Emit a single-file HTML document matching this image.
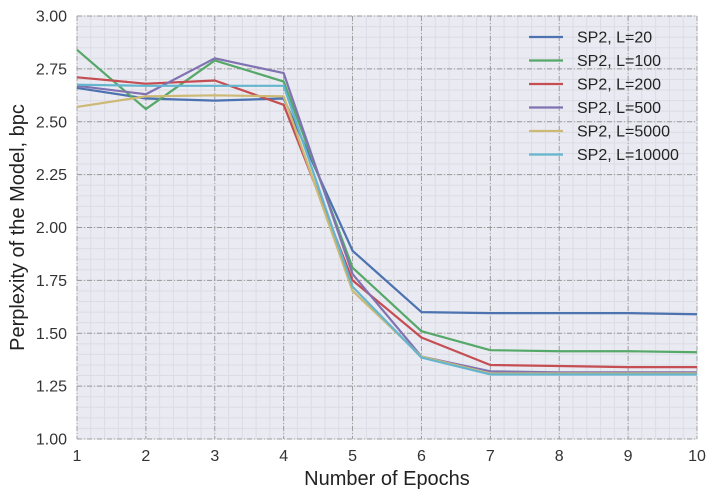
<!DOCTYPE html>
<html><head><meta charset="utf-8"><style>
body{margin:0;background:#fff;}
svg{display:block;font-family:"Liberation Sans",sans-serif;}
</style></head><body>
<svg id="c" width="715" height="498"></svg>
<script>
const epochs=[1,2,3,4,5,6,7,8,9,10];
const seriesNames=["SP2, L=20","SP2, L=100","SP2, L=200","SP2, L=500","SP2, L=5000","SP2, L=10000"];
const sL20=[2.66,2.61,2.60,2.61,1.89,1.60,1.595,1.595,1.595,1.59];
const sL100=[2.84,2.56,2.79,2.69,1.81,1.51,1.42,1.415,1.415,1.41];
const sL200=[2.71,2.68,2.695,2.58,1.75,1.48,1.35,1.345,1.34,1.34];
const sL500=[2.67,2.63,2.80,2.73,1.78,1.39,1.32,1.315,1.315,1.315];
const sL5000=[2.57,2.62,2.625,2.62,1.70,1.39,1.31,1.31,1.31,1.31];
const sL10000=[2.675,2.67,2.67,2.67,1.72,1.385,1.305,1.305,1.305,1.305];
const yTicks=["1.00","1.25","1.50","1.75","2.00","2.25","2.50","2.75","3.00"];
const colors=["#4c72b0","#55a868","#c44e52","#8172b2","#ccb974","#64b5cd"];
const series=[sL20,sL100,sL200,sL500,sL5000,sL10000];
const L=77,R=697,T=16,B=439;
const X=v=>L+(v-1)/9*(R-L);
const Y=v=>B-(v-1)/2*(B-T);
const svg=document.getElementById('c');
const NS="http://www.w3.org/2000/svg";
function mk(t,a,p){const e=document.createElementNS(NS,t);for(const k in a)e.setAttribute(k,a[k]);(p||svg).appendChild(e);return e;}
const bg=mk('rect',{x:L,y:T,width:R-L,height:B-T,fill:'#eaeaf2'});


for(let v=1;v<=10.001;v+=0.2){mk('line',{x1:X(v),x2:X(v),y1:T,y2:B,stroke:'#dcdce4','stroke-width':1});}
for(let v=1;v<=3.001;v+=0.05){mk('line',{x1:L,x2:R,y1:Y(v),y2:Y(v),stroke:'#dcdce4','stroke-width':1});}
epochs.forEach(e=>{
  mk('line',{x1:X(e),x2:X(e),y1:T,y2:B,stroke:'#999','stroke-width':0.9,'stroke-dasharray':'5,2,1,2'});
  const t=mk('text',{x:X(e),y:B+22,'text-anchor':'middle','font-size':16,fill:'#333'});t.textContent=e;
  
  
});
yTicks.forEach(s=>{
  const v=parseFloat(s);
  mk('line',{x1:L,x2:R,y1:Y(v),y2:Y(v),stroke:'#999','stroke-width':0.9,'stroke-dasharray':'5,2,1,2'});
  const t=mk('text',{x:L-10,y:Y(v)+5.5,'text-anchor':'end','font-size':16,fill:'#333'});t.textContent=s;
  
  
});
series.forEach((s,i)=>{
  const p=mk('polyline',{points:s.map((v,j)=>X(epochs[j])+','+Y(v)).join(' '),fill:'none',stroke:colors[i],'stroke-width':2.2,'stroke-linejoin':'round'});
  
  
});
seriesNames.forEach((n,i)=>{
  const y=37+i*23.5;
  const g=mk('g',{});
  
  
  mk('line',{x1:529,x2:563,y1:y,y2:y,stroke:colors[i],'stroke-width':2.2},g);
  const t=mk('text',{x:577,y:y+5.5,'font-size':16,fill:'#222'},g);t.textContent=n;
});
const xt=mk('text',{x:(L+R)/2,y:485,'text-anchor':'middle','font-size':20,fill:'#222'});xt.textContent="Number of Epochs";


const yt=mk('text',{x:0,y:0,'text-anchor':'middle','font-size':20,fill:'#222',transform:`translate(24,${(T+B)/2}) rotate(-90)`});yt.textContent="Perplexity of the Model, bpc";


</script>
</body></html>
